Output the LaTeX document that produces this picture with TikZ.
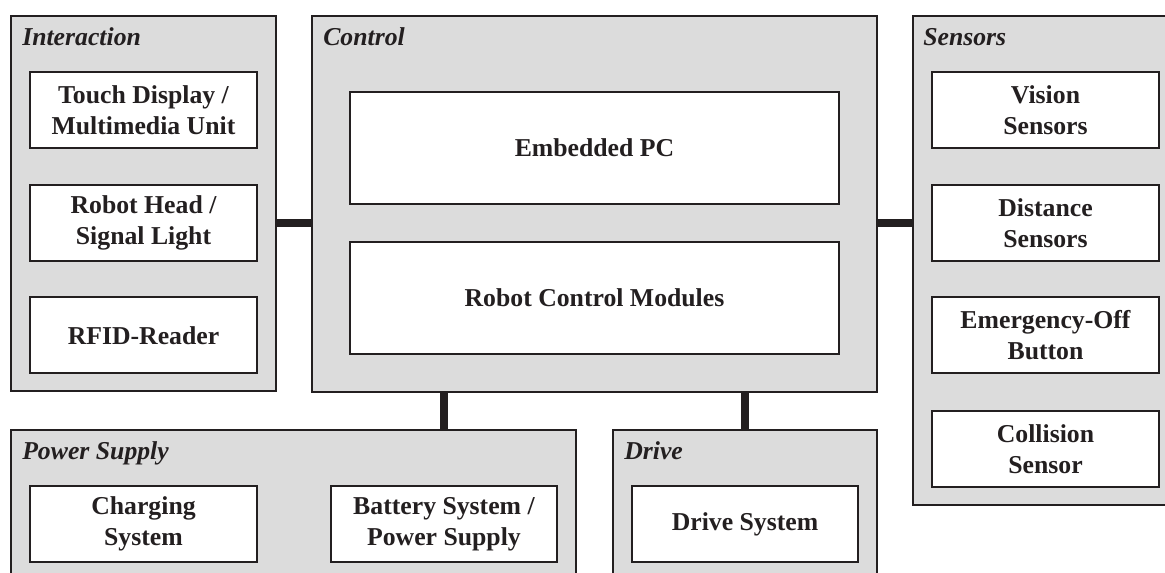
\documentclass[tikz,border=0pt]{standalone}
\usepackage{fontspec}
\setmainfont{Liberation Serif}
\usetikzlibrary{fit}
\definecolor{ink}{HTML}{231F20}
\definecolor{grpfill}{HTML}{DCDCDC}
\tikzset{
  grp/.style={draw=ink, line width=1.5pt, fill=grpfill, inner sep=0pt, outer sep=0pt},
  unit/.style={draw=ink, line width=1.5pt, fill=white, inner sep=0pt, outer sep=0pt, align=center, text=ink, font=\fontsize{19.3}{23.3}\selectfont\bfseries, minimum width=170pt, minimum height=57pt},
  bigunit/.style={unit, minimum width=366.75pt, minimum height=84pt},
  grptitle/.style={anchor=base west, inner sep=0pt, text=ink, font=\fontsize{19.3}{23.3}\selectfont\bfseries\itshape},
  conn/.style={draw=ink, line width=6pt}
}
\begin{document}
\begin{tikzpicture}[x=0.75pt,y=-0.75pt]
\useasboundingbox (0,0) rectangle (1165,573);
\clip (0,0) rectangle (1165,573);
% groups
\node[grp, fit={(11,16) (276,391)}] (inter) {};
\node[grp, fit={(312,16) (877,392)}] (ctrl) {};
\node[grp, fit={(913,16) (1178,505)}] (sens) {};
\node[grp, fit={(11,430) (576,600)}] (power) {};
\node[grp, fit={(613,430) (877,600)}] (drive) {};
% titles
\node[grptitle] (tinter) at (22,46) {Interaction};
\node[grptitle] (tctrl) at (323,46) {Control};
\node[grptitle] (tsens) at (923,46) {Sensors};
\node[grptitle] (tpower) at (22,460) {Power Supply};
\node[grptitle] (tdrive) at (624,460) {Drive};
% interaction units
\node[unit] (touch) at (143.5,110) {Touch Display /\\Multimedia Unit};
\node[unit] (head) at (143.5,223) {Robot Head /\\Signal Light};
\node[unit] (rfid) at (143.5,335.5) {RFID-Reader};
% control units
\node[bigunit] (pc) at (594.5,148) {Embedded PC};
\node[bigunit] (rcm) at (594.5,298) {Robot Control Modules};
% sensor units
\node[unit] (vision) at (1045.5,110) {Vision\\Sensors};
\node[unit] (dist) at (1045.5,223) {Distance\\Sensors};
\node[unit] (emerg) at (1045.5,335.5) {Emergency-Off\\Button};
\node[unit] (coll) at (1045.5,449) {Collision\\Sensor};
% power units
\node[unit] (charge) at (143.5,524) {Charging\\System};
\node[unit] (batt) at (444,524) {Battery System /\\Power Supply};
% drive unit
\node[unit] (dsys) at (745,524) {Drive System};
% connectors
\coordinate (cy) at (0,223);
\coordinate (px) at (444,0);
\coordinate (dx) at (745,0);
\draw[conn] (inter.east |- cy) -- (ctrl.west |- cy);
\draw[conn] (ctrl.east |- cy) -- (sens.west |- cy);
\draw[conn] (ctrl.south -| px) -- (power.north -| px);
\draw[conn] (ctrl.south -| dx) -- (drive.north -| dx);
\end{tikzpicture}
\end{document}
